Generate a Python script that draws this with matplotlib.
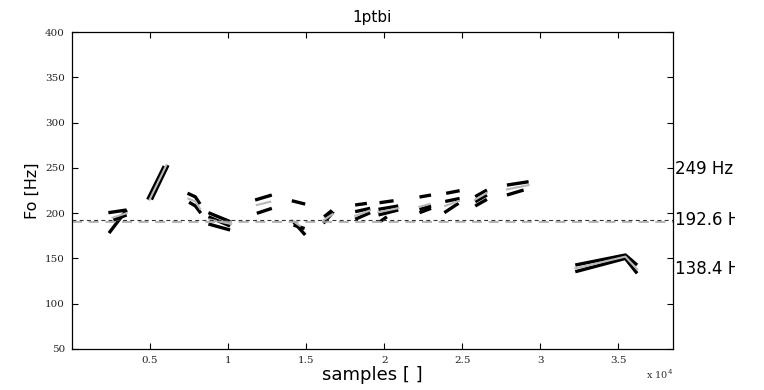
import matplotlib
matplotlib.use("Agg")
import matplotlib.pyplot as plt
from matplotlib.transforms import Bbox

# F0 tracks, x in units of 1e4 samples, y in Hz
black_x = [
    [0.237, 0.35], [0.233, 0.35], [0.265, 0.35],
    [0.485, 0.591], [0.509, 0.615],
    [0.74, 0.79, 0.82], [0.75, 0.79, 0.825],
    [0.874, 1.013], [0.874, 1.013], [0.874, 1.013],
    [1.173, 1.28], [1.184, 1.28],
    [1.408, 1.494], [1.419, 1.494], [1.419, 1.49],
    [1.61, 1.675], [1.615, 1.665],
    [1.814, 1.889], [1.814, 1.91], [1.814, 1.91],
    [1.97, 2.06], [1.963, 2.09], [1.963, 2.09], [1.974, 2.017],
    [2.226, 2.30], [2.226, 2.30], [2.226, 2.30],
    [2.397, 2.483], [2.391, 2.483], [2.385, 2.476],
    [2.583, 2.658], [2.583, 2.658], [2.583, 2.658],
    [2.786, 2.925], [2.786, 2.893],
    [3.224, 3.545, 3.62], [3.224, 3.545, 3.62],
]
black_y = [
    [178, 203.5], [200.5, 203.5], [192.4, 198],
    [215, 252], [215, 253],
    [222, 218, 210], [212, 208, 200],
    [200.5, 190.6], [196, 185.8], [188, 181.4],
    [214.5, 220], [199.8, 205.3],
    [213.7, 210], [190.5, 175.9], [186.8, 183],
    [188.8, 201.6], [196, 203],
    [209, 210.8], [201.6, 205.3], [193.2, 200.5],
    [211.5, 213.7], [204.2, 207.9], [198, 203.5], [190.6, 196],
    [217.8, 220], [200.5, 205.3], [204, 208],
    [221.9, 224.8], [212.9, 216.2], [200.5, 210.9],
    [218.2, 225.5], [207.9, 215.2], [212.7, 220],
    [231, 234.7], [220, 225.5],
    [142.7, 153.8, 142.7], [135.3, 150, 133.5],
]
gray_x = [
    [0.26, 0.35], [0.497, 0.603], [0.745, 0.79, 0.82], [0.88, 1.02],
    [1.184, 1.27], [1.41, 1.46], [1.61, 1.67], [1.814, 1.91],
    [1.963, 2.09], [2.226, 2.29], [2.39, 2.48], [2.583, 2.658],
    [2.786, 2.925], [3.224, 3.545, 3.62],
]
gray_y = [
    [195, 200], [215, 252.5], [216, 213, 205], [193, 188],
    [209, 212.6], [192, 186], [192, 199], [197, 203],
    [201, 205.5], [207, 210], [208, 213.5], [215, 222.5],
    [226.2, 231], [139, 152, 138],
]

f0_mean = 192.6
f0_ref = 190
right_vals = [249, 192.6, 138.4]
right_labels = ["249 Hz", "192.6 Hz", "138.4 Hz"]
xticks = [0.5, 1, 1.5, 2, 2.5, 3, 3.5]
yticks = [50, 100, 150, 200, 250, 300, 350, 400]

fig = plt.figure(figsize=(7.64, 3.90), dpi=100)
ax = fig.add_axes([72 / 764, 41 / 390, 601 / 764, 317 / 390])

for xs, ys in zip(black_x, black_y):
    ax.plot(xs, ys, color="black", lw=2.4, solid_capstyle="butt")
for xs, ys in zip(gray_x, gray_y):
    ax.plot(xs, ys, color="#b8b8b8", lw=1.5)

ax.axhline(f0_ref, color="#aaaaaa", lw=1.2, ls=(0, (6, 4)))
ax.axhline(f0_mean, color="#333333", lw=0.8, ls=(0, (3.5, 3)))

ax.set_xlim(0, 3.85)
ax.set_ylim(50, 400)
ax.set_xticks(xticks)
ax.set_xticklabels(["%g" % v for v in xticks])
ax.set_yticks(yticks)
ax.tick_params(direction="in", length=4, width=0.8, top=True, right=True,
               labelsize=7.5, labelcolor="#222222", pad=5)
for lab in ax.get_xticklabels() + ax.get_yticklabels():
    lab.set_family("DejaVu Serif")
for sp in ax.spines.values():
    sp.set_linewidth(0.9)

ax.set_title("1ptbi", fontsize=11, family="DejaVu Sans", pad=7)
ax.set_xlabel("samples [ ]", fontsize=13, family="DejaVu Sans", labelpad=1)
ax.set_ylabel("Fo [Hz]", fontsize=11.5, family="DejaVu Sans", labelpad=4)

fig.text(646 / 764, 1 - 374 / 390, "x 10$^4$", fontsize=7, family="DejaVu Serif",
         va="center", ha="left", color="#333333")

clip = Bbox.from_extents(0, 0, 735, 390)
for v, lab in zip(right_vals, right_labels):
    t = ax.text(1.003, v, lab, transform=ax.get_yaxis_transform(),
                fontsize=12, family="DejaVu Sans", va="center", ha="left")
    t.set_clip_box(clip)
    t.set_clip_on(True)

fig.savefig("out.png", dpi=100)
